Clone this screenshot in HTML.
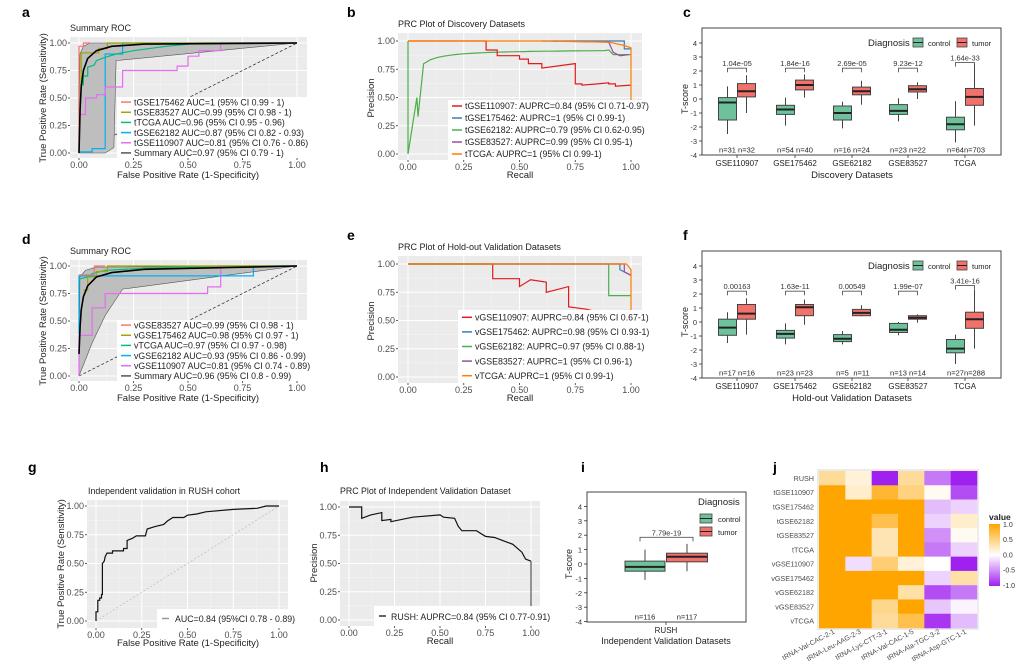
<!DOCTYPE html>
<html><head><meta charset="utf-8"><style>
html,body{margin:0;padding:0;background:#fff;}
svg{display:block;font-family:"Liberation Sans",Arial,sans-serif;}
</style></head><body>
<svg id="s" width="1022" height="661" viewBox="0 0 1022 661" xmlns="http://www.w3.org/2000/svg"></svg>
<script>
let h='';
function T(x,y,t,o){o=o||{};h+=`<text x="${x}" y="${y}" font-size="${o.fs||9}" fill="${o.c||'#222'}" text-anchor="${o.a||'start'}" ${o.w?'font-weight="bold"':''} ${o.r!==undefined?`transform="rotate(${o.r} ${x} ${y})"`:''}>${t}</text>`;}
function R(x,y,w,hh,f,s,sw){h+=`<rect x="${x}" y="${y}" width="${w}" height="${hh}" fill="${f}" ${s?`stroke="${s}" stroke-width="${sw||1}"`:''}/>`;}
function Ln(x1,y1,x2,y2,c,w,d){h+=`<line x1="${x1}" y1="${y1}" x2="${x2}" y2="${y2}" stroke="${c}" stroke-width="${w||1}" ${d?`stroke-dasharray="${d}"`:''}/>`;}
function gg(p){
  R(p.gx0,p.gy0,p.gx1-p.gx0,p.gy1-p.gy0,'#EBEBEB');
  const mx=v=>p.X0+(p.X1-p.X0)*v, my=v=>p.Y0+(p.Y1-p.Y0)*v;
  for(let v=0.125;v<1;v+=0.25){Ln(mx(v),p.gy0,mx(v),p.gy1,'#f6f6f6',0.5);Ln(p.gx0,my(v),p.gx1,my(v),'#f6f6f6',0.5);}
  for(let i=0;i<=4;i++){const v=i/4,l=['0.00','0.25','0.50','0.75','1.00'][i];
    Ln(mx(v),p.gy0,mx(v),p.gy1,'#fff',1);Ln(p.gx0,my(v),p.gx1,my(v),'#fff',1);
    Ln(mx(v),p.gy1,mx(v),p.gy1+2,'#333',0.8);Ln(p.gx0-2,my(v),p.gx0,my(v),'#333',0.8);
    T(mx(v),p.gy1+10,l,{fs:9,c:'#4d4d4d',a:'middle'});T(p.gx0-3,my(v)+3,l,{fs:9,c:'#4d4d4d',a:'end'});}
  p.mx=mx;p.my=my;return p;
}
function PL(p,pts,c,w,extra){h+=`<polyline fill="none" stroke="${c}" stroke-width="${w||1.2}" ${extra||''} points="${pts.map(q=>p.mx(q[0]).toFixed(1)+','+p.my(q[1]).toFixed(1)).join(' ')}"/>`;}
function PG(p,pts,f){h+=`<polygon fill="${f}" stroke="#555" stroke-width="0.6" points="${pts.map(q=>p.mx(q[0]).toFixed(1)+','+p.my(q[1]).toFixed(1)).join(' ')}"/>`;}
function legend(x0,y0,x1,y1,items,fs){R(x0,y0,x1-x0,y1-y0,'#fff');const st=(y1-y0)/items.length;
  items.forEach((it,i)=>{const y=y0+st*(i+0.5);Ln(x0+4,y,x0+14,y,it[0],1.5);T(x0+17,y+3.2,it[1],{fs:fs||9});});}

// ---------- a ----------
function roc(dy,title,labs,curves){
  T(22,17+dy+(dy?227-223:0),dy?'d':'a',{fs:14,w:1,c:'#000'});
  const p=gg({gx0:70,gx1:307,gy0:37+dy,gy1:158+dy,X0:79,X1:297,Y0:153+dy,Y1:43+dy});
  T(70,31+dy,title,{fs:9});
  T(46,98+dy,'True Positive Rate (Sensitivity)',{fs:9.5,a:'middle',r:-90});
  T(188,178+dy,'False Positive Rate (1-Specificity)',{fs:9.5,a:'middle'});
  PL(p,[[0,0],[1,1]],'#222',0.7,'stroke-dasharray="3,2"');
  return p;
}
let p=roc(0,'Summary ROC');
PG(p,[[0,0],[0.004,0.9],[0.02,0.97],[0.05,1],[1,1],[0.17,0.84],[0.16,0.05],[0.12,0],[0,0]],'#BEBEBE');
PL(p,[[0,0],[0,0.01],[0.06,0.01],[0.06,0.04],[0.12,0.04],[0.12,0.9],[0.2,0.9],[0.2,1],[1,1]],'#00B0F6');
PL(p,[[0,0],[0,0.35],[0.03,0.35],[0.03,0.5],[0.08,0.5],[0.08,0.53],[0.12,0.53],[0.12,0.6],[0.2,0.6],[0.2,0.75],[0.45,0.75],[0.45,0.79],[0.5,0.79],[0.5,0.88],[0.55,0.88],[0.55,0.93],[0.65,0.93],[0.65,1],[1,1]],'#E76BF3');
PL(p,[[0,0.35],[0,0.62],[0.02,0.62],[0.02,0.7],[0.04,0.7],[0.04,0.78],[0.07,0.8],[0.08,0.84],[0.12,0.87],[0.17,0.9],[0.25,0.93],[0.4,0.97],[0.55,1],[1,1]],'#00BF7D');
PL(p,[[0,0.62],[0.01,0.62],[0.01,0.91],[0.09,0.91],[0.09,0.95],[0.13,0.95],[0.13,1],[1,1]],'#A3A500');
PL(p,[[0,0],[0,0.97],[0.02,0.97],[0.02,1],[0.05,1]],'#F8766D');
PL(p,[[0,0],[0.005,0.4],[0.01,0.6],[0.02,0.75],[0.04,0.86],[0.08,0.93],[0.15,0.97],[0.3,0.99],[1,1]],'#000',1.6);
legend(117,97,307,158,[['#F8766D','tGSE175462 AUC=1 (95% CI 0.99 - 1)'],['#A3A500','tGSE83527 AUC=0.99 (95% CI 0.98 - 1)'],['#00BF7D','tTCGA AUC=0.96 (95% CI 0.95 - 0.96)'],['#00B0F6','tGSE62182 AUC=0.87 (95% CI 0.82 - 0.93)'],['#E76BF3','tGSE110907 AUC=0.81 (95% CI 0.76 - 0.86)'],['#555','Summary AUC=0.97 (95% CI 0.79 - 1)']],8.8);

// ---------- d ----------
p=roc(223,'Summary ROC');
PG(p,[[0,0],[0.004,0.9],[0.03,0.96],[0.08,0.99],[1,1],[0.2,0.79],[0.12,0.55],[0.06,0.3],[0,0]],'#BEBEBE');
PL(p,[[0,0],[0,0.2],[0,0.37],[0.06,0.37],[0.06,0.62],[0.12,0.62],[0.12,0.75],[0.59,0.75],[0.59,0.81],[0.65,0.81],[0.65,1],[1,1]],'#E76BF3');
PL(p,[[0,0.38],[0,0.91],[0.8,0.91],[0.8,1],[1,1]],'#00B0F6');
PL(p,[[0,0.88],[0.04,0.9],[0.06,0.93],[0.12,0.96],[0.3,0.98],[0.65,1],[1,1]],'#00BF7D');
PL(p,[[0.02,0.78],[0.04,0.78],[0.04,0.9],[0.08,0.9],[0.08,0.95],[0.13,0.95],[0.13,1],[1,1]],'#A3A500');
PL(p,[[0,0.92],[0.07,0.92],[0.07,1],[0.12,1]],'#F8766D');
PL(p,[[0,0.2],[0.005,0.45],[0.01,0.6],[0.02,0.72],[0.04,0.82],[0.08,0.9],[0.15,0.94],[0.3,0.97],[1,1]],'#000',1.6);
legend(117,320,307,381,[['#F8766D','vGSE83527 AUC=0.99 (95% CI 0.98 - 1)'],['#A3A500','vGSE175462 AUC=0.98 (95% CI 0.97 - 1)'],['#00BF7D','vTCGA AUC=0.97 (95% CI 0.97 - 0.98)'],['#00B0F6','vGSE62182 AUC=0.93 (95% CI 0.86 - 0.99)'],['#E76BF3','vGSE110907 AUC=0.81 (95% CI 0.74 - 0.89)'],['#555','Summary AUC=0.96 (95% CI 0.8 - 0.99)']],8.8);

// ---------- b / e ----------
function prc(dy,lab,title){
  T(347,17+dy,lab,{fs:14,w:1,c:'#000'});
  const p=gg({gx0:398,gx1:642,gy0:33+dy,gy1:160+dy,X0:408,X1:631,Y0:154+dy,Y1:41+dy});
  T(398,27+dy,title,{fs:9});
  T(374,98+dy,'Precision',{fs:9.5,a:'middle',r:-90});
  T(520,178+dy,'Recall',{fs:9.5,a:'middle'});return p;
}
p=prc(0,'b','PRC Plot of Discovery Datasets');
let gc=[[0,1],[0,0],[0.04,0.5],[0.045,0.33]];for(let r=0.07;r<=0.9;r+=0.03){gc.push([r,r/(r+0.012+0.08*r)]);}
gc.push([0.9,0.92],[0.92,0.88],[0.95,0.88],[1,0.88]);
PL(p,gc,'#4DAF4A');
PL(p,[[0,1],[0.35,1],[0.35,0.92],[0.4,0.92],[0.4,0.87],[0.5,0.87],[0.5,0.84],[0.54,0.84],[0.54,0.8],[0.6,0.8],[0.6,0.76],[0.75,0.8],[0.75,0.62],[0.78,0.62],[0.78,0.61],[0.85,0.62],[0.9,0.63],[0.9,0.62],[0.93,0.62],[0.93,0.6],[1,0.61]],'#E41A1C');
PL(p,[[0.6,1],[0.97,1],[0.97,0.93],[1,0.93]],'#377EB8');
PL(p,[[0.65,1],[0.9,0.99],[0.92,0.9],[0.95,0.87],[0.99,0.88]],'#984EA3');
PL(p,[[0,1],[0.6,1],[0.9,0.99],[0.97,0.96],[1,0.94],[1,0.47]],'#FF7F00');
legend(448,100,642,160,[['#E41A1C','tGSE110907: AUPRC=0.84 (95% CI 0.71-0.97)'],['#377EB8','tGSE175462: AUPRC=1 (95% CI 0.99-1)'],['#4DAF4A','tGSE62182: AUPRC=0.79 (95% CI 0.62-0.95)'],['#984EA3','tGSE83527: AUPRC=0.99 (95% CI 0.95-1)'],['#FF7F00','tTCGA: AUPRC=1 (95% CI 0.99-1)']],8.8);

p=prc(223,'e','PRC Plot of Hold-out Validation Datasets');
PL(p,[[0,1],[0.38,1],[0.38,0.87],[0.5,0.87],[0.5,0.8],[0.55,0.86],[0.62,0.84],[0.62,0.75],[0.72,0.8],[0.72,0.62],[0.8,0.6],[0.9,0.55],[1,0.5]],'#E41A1C');
PL(p,[[0,1],[0.9,1],[0.9,0.72],[1,0.72]],'#4DAF4A');
PL(p,[[0,1],[0.95,1],[0.95,0.95],[1,0.9]],'#377EB8');
PL(p,[[0,1],[0.97,1],[0.97,0.93],[1,0.9]],'#984EA3');
PL(p,[[0,1],[0.98,1],[1,0.95],[1,0.35]],'#FF7F00');
legend(458,310,642,383,[['#E41A1C','vGSE110907: AUPRC=0.84 (95% CI 0.67-1)'],['#377EB8','vGSE175462: AUPRC=0.98 (95% CI 0.93-1)'],['#4DAF4A','vGSE62182: AUPRC=0.97 (95% CI 0.88-1)'],['#984EA3','vGSE83527: AUPRC=1 (95% CI 0.96-1)'],['#FF7F00','vTCGA: AUPRC=1 (95% CI 0.99-1)']],8.8);

// ---------- boxplots ----------
const CG='#6DC29B',CT='#F2716B';
function box(cx,w,my,b,col){const [lo,q1,md,q3,hi]=b;
  Ln(cx,my(hi),cx,my(lo),'#444',1);R(cx-w/2,my(q3),w,my(q1)-my(q3),col,'#444',1);Ln(cx-w/2,my(md),cx+w/2,my(md),'#222',2);}
function bracket(x1,x2,y,t){h+=`<path d="M${x1},${y+4}V${y}H${x2}V${y+4}" fill="none" stroke="#555" stroke-width="0.9"/>`;T((x1+x2)/2,y-2,t,{fs:7.5,a:'middle',c:'#333'});}
function bp(dy,lab,xt,data){
  T(683,17+dy,lab,{fs:14,w:1,c:'#000'});
  const my=v=>99+dy-14*v;
  R(702,28+dy,299,127,'#fff','#444',1);
  for(let v=-4;v<=4;v++){Ln(699,my(v),702,my(v),'#333',0.8);T(697,my(v)+3,v,{fs:7.5,a:'end',c:'#333'});}
  T(688,99+dy,'T-score',{fs:9,a:'middle',r:-90});
  T(868,46+dy,'Diagnosis',{fs:9.5});
  R(913,38+dy,10,9,CG,'#444',0.8);Ln(913,42.5+dy,923,42.5+dy,'#222',1);T(928,46+dy,'control',{fs:7.5});
  R(957,38+dy,10,9,CT,'#444',0.8);Ln(957,42.5+dy,967,42.5+dy,'#222',1);T(972,46+dy,'tumor',{fs:7.5});
  const xs=[737,795,852,908,965];
  data.forEach((d,i)=>{const x=xs[i];
    box(x-9.5,18,my,d.c,CG);box(x+9.5,18,my,d.t,CT);
    bracket(x-9.5,x+9.5,my(d.py),d.p);
    T(x-9.5,my(-3.6)+3,d.n[0],{fs:7.5,a:'middle'});T(x+9.5,my(-3.6)+3,d.n[1],{fs:7.5,a:'middle'});
    Ln(x,155+dy,x,158+dy,'#333',0.8);T(x,166+dy,d.name,{fs:8,a:'middle'});});
  T(852,178+dy,xt,{fs:9.5,a:'middle'});
}
bp(0,'c','Discovery Datasets',[
 {name:'GSE110907',c:[-2.5,-1.5,-0.25,0.1,0.9],t:[-1,0.15,0.55,1.1,1.7],py:2.2,p:'1.04e-05',n:['n=31','n=32']},
 {name:'GSE175462',c:[-1.9,-1.1,-0.75,-0.45,0.1],t:[0.1,0.65,1.0,1.35,1.75],py:2.2,p:'1.84e-16',n:['n=54','n=40']},
 {name:'GSE62182',c:[-2.1,-1.5,-1.0,-0.5,-0.2],t:[-0.4,0.3,0.55,0.85,1.3],py:2.2,p:'2.69e-05',n:['n=16','n=24']},
 {name:'GSE83527',c:[-1.6,-1.1,-0.85,-0.4,0.05],t:[0,0.5,0.7,0.95,1.2],py:2.2,p:'9.23e-12',n:['n=23','n=22']},
 {name:'TCGA',c:[-3.1,-2.2,-1.8,-1.3,-0.15],t:[-1.9,-0.45,0.15,0.75,2.5],py:2.6,p:'1.64e-33',n:['n=64','n=703']}]);
bp(223,'f','Hold-out Validation Datasets',[
 {name:'GSE110907',c:[-1.5,-0.95,-0.4,0.2,0.7],t:[-0.9,0.2,0.6,1.25,1.7],py:2.2,p:'0.00163',n:['n=17','n=16']},
 {name:'GSE175462',c:[-1.6,-1.15,-0.85,-0.6,-0.1],t:[-0.2,0.45,1.05,1.25,1.6],py:2.2,p:'1.63e-11',n:['n=23','n=23']},
 {name:'GSE62182',c:[-1.6,-1.4,-1.2,-0.9,-0.65],t:[0.4,0.45,0.65,0.9,1.2],py:2.2,p:'0.00549',n:['n=5','n=11']},
 {name:'GSE83527',c:[-0.95,-0.75,-0.55,-0.1,0],t:[-0.05,0.2,0.3,0.45,0.55],py:2.2,p:'1.99e-07',n:['n=13','n=14']},
 {name:'TCGA',c:[-3,-2.2,-1.9,-1.25,-0.9],t:[-1.9,-0.45,0.2,0.7,2.3],py:2.6,p:'3.41e-16',n:['n=27','n=288']}]);

// ---------- g ----------
T(28,472,'g',{fs:14,w:1,c:'#000'});
p=gg({gx0:87,gx1:288,gy0:500,gy1:628,X0:96,X1:279,Y0:621,Y1:506});
T(88,494,'Independent validation in RUSH cohort',{fs:8.8});
T(64,564,'True Positive Rate (Sensitivity)',{fs:9.5,a:'middle',r:-90});
T(188,646,'False Positive Rate (1-Specificity)',{fs:9.5,a:'middle'});
PL(p,[[0,0],[1,1]],'#bbb',0.7,'stroke-dasharray="2,2"');
PL(p,[[0,0],[0,0.08],[0.01,0.08],[0.01,0.18],[0.02,0.18],[0.02,0.2],[0.03,0.2],[0.03,0.23],[0.035,0.23],[0.035,0.5],[0.045,0.52],[0.05,0.56],[0.06,0.59],[0.09,0.59],[0.09,0.61],[0.15,0.61],[0.15,0.63],[0.17,0.63],[0.17,0.7],[0.2,0.72],[0.22,0.74],[0.27,0.74],[0.28,0.8],[0.32,0.82],[0.37,0.84],[0.39,0.87],[0.42,0.9],[0.48,0.9],[0.5,0.92],[0.55,0.93],[0.6,0.95],[0.75,0.97],[0.88,0.98],[0.93,1],[1,1]],'#111',1.2);
R(157,609,131,19,'#fff');Ln(162,618.5,169,618.5,'#999',1.5);T(175,622,'AUC=0.84 (95%CI 0.78 - 0.89)',{fs:8.8});

// ---------- h ----------
T(320,472,'h',{fs:14,w:1,c:'#000'});
p=gg({gx0:340,gx1:540,gy0:501,gy1:626,X0:349,X1:531,Y0:620,Y1:507});
T(340,494,'PRC Plot of Independent Validation Dataset',{fs:8.8});
T(317,563,'Precision',{fs:9.5,a:'middle',r:-90});
T(440,644,'Recall',{fs:9.5,a:'middle'});
PL(p,[[0,1],[0.07,1],[0.07,0.9],[0.12,0.93],[0.18,0.95],[0.18,0.88],[0.23,0.89],[0.23,0.87],[0.35,0.91],[0.5,0.93],[0.52,0.91],[0.58,0.9],[0.6,0.83],[0.62,0.79],[0.7,0.79],[0.75,0.74],[0.8,0.73],[0.85,0.7],[0.9,0.67],[0.95,0.6],[0.97,0.54],[1,0.52]],'#111',1.2);
PL(p,[[1,0.52],[1,0.12]],'#777',1.5);
R(374,606,166,20,'#fff');Ln(379,616,386,616,'#333',1.5);T(391,620,'RUSH: AUPRC=0.84 (95% CI 0.77-0.91)',{fs:8.8});

// ---------- i ----------
T(581,472,'i',{fs:14,w:1,c:'#000'});
(function(){const my=v=>564-14.4*v;R(587,492,159,130,'#fff','#444',1);
 for(let v=-4;v<=4;v++){Ln(584,my(v),587,my(v),'#333',0.8);T(582,my(v)+3,v,{fs:7.5,a:'end',c:'#333'});}
 T(572,564,'T-score',{fs:9,a:'middle',r:-90});
 box(645,40,my,[-1.1,-0.5,-0.2,0.2,1.0],CG);box(687,41,my,[-0.5,0.15,0.5,0.75,1.4],CT);
 bracket(640,693,my(1.85),'7.79e-19');
 T(645,my(-3.65)+3,'n=116',{fs:7.5,a:'middle'});T(687,my(-3.65)+3,'n=117',{fs:7.5,a:'middle'});
 T(698,505,'Diagnosis',{fs:9.5});
 R(700,514,12,9,CG,'#444',0.8);Ln(700,518.5,712,518.5,'#222',1);T(718,522,'control',{fs:7.5});
 R(700,527,12,9,CT,'#444',0.8);Ln(700,531.5,712,531.5,'#222',1);T(718,535,'tumor',{fs:7.5});
 Ln(666,622,666,625,'#333',0.8);T(666,633,'RUSH',{fs:8,a:'middle'});
 T(666,644,'Independent Validation Datasets',{fs:9,a:'middle'});})();

// ---------- j ----------
T(773,472,'j',{fs:14,w:1,c:'#000'});
const rows=['RUSH','tGSE110907','tGSE175462','tGSE62182','tGSE83527','tTCGA','vGSE110907','vGSE175462','vGSE62182','vGSE83527','vTCGA'];
const cols=['tRNA-Val-CAC-2-1','tRNA-Leu-AAG-2-3','tRNA-Lys-CTT-3-1','tRNA-Val-CAC-1-5','tRNA-Ala-TGC-3-2','tRNA-Asp-GTC-1-1'];
const V=[[0.4,0.15,-1,0.4,-0.6,-1],[1,0.2,0.8,0.5,0.05,-0.8],[1,1,1,1,-0.3,-0.2],[1,1,0.7,1,-0.2,0.2],[1,1,0.3,1,-0.5,0.05],[1,1,0.3,1,-0.6,-0.2],[1,-0.15,0.55,0.15,0,-1],[1,1,1,1,-0.2,0.35],[1,1,1,0.35,-0.8,-0.6],[1,1,0.45,1,-0.25,-0.05],[1,1,0.4,0.7,-0.9,-0.3]];
function col(v){let a,b;if(v>=0){a=[255,165,0];}else{a=[160,32,240];v=-v;}const c=a.map(x=>Math.round(255+(x-255)*v));return `rgb(${c})`;}
R(817,469,162,161,'#EBEBEB');
const cw=158/6,rh=157/11;
V.forEach((r,i)=>r.forEach((v,j)=>R(819+j*cw,471+i*rh,cw+0.3,rh+0.3,col(v))));
rows.forEach((r,i)=>T(814,471+i*rh+rh/2+2.8,r,{fs:7.2,a:'end',c:'#4d4d4d'}));
cols.forEach((c,j)=>{const x=819+j*cw+cw/2+3,y=633;T(x,y,c,{fs:7,a:'end',c:'#4d4d4d',r:-28});});
T(989,520,'value',{fs:8.5,w:1});
h+=`<defs><linearGradient id="gr" x1="0" y1="0" x2="0" y2="1"><stop offset="0" stop-color="#FFA500"/><stop offset="0.5" stop-color="#fff"/><stop offset="1" stop-color="#A020F0"/></linearGradient></defs>`;
R(989,524,11,62,'url(#gr)');
['1.0','0.5','0.0','-0.5','-1.0'].forEach((t,i)=>T(1003,527+i*15.2,t,{fs:7,c:'#333'}));

document.getElementById('s').innerHTML=h;
</script>
</body></html>
